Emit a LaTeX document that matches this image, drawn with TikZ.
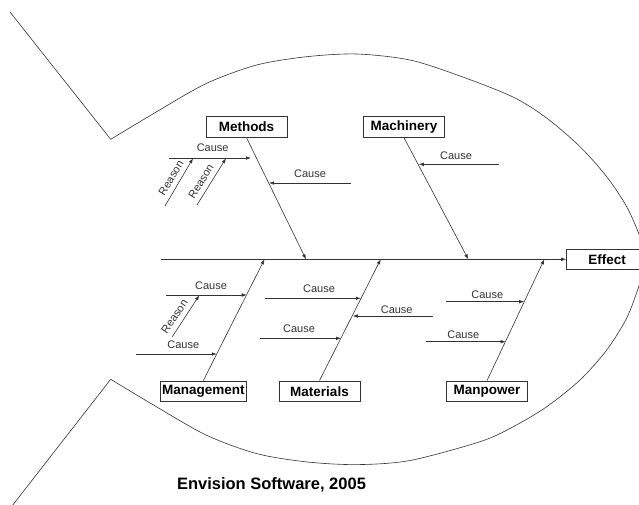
\documentclass[tikz,border=0pt]{standalone}
\usepackage{fontspec}
\setmainfont{Liberation Sans}
\usetikzlibrary{arrows.meta}
\begin{document}
\begin{tikzpicture}[x=1pt,y=-1pt,
  line/.style={draw=black!80, line width=0.6pt},
  arr/.style={line, -{Latex[length=5pt,width=3.6pt]}},
  cat/.style={draw=black!80, line width=0.7pt, fill=white, minimum width=81pt,
    minimum height=20.7pt, inner xsep=2pt, inner ysep=0pt,
    font=\fontsize{13.5}{14}\selectfont\bfseries},
  lbl/.style={font=\fontsize{11}{12}\selectfont, text=black!80, inner sep=0pt},
]
\useasboundingbox (0,0) rectangle (639,504);
\clip (0,0) rectangle (639,504);

% fish outline
\draw[line] (10,12) -- (110.7,139.3);
\draw[line] plot[smooth] coordinates {(110.7,139.3) (156.7,111.7) (206.7,83.3)
  (256.7,65) (306.7,56.7) (356.7,54) (410,60) (460,76) (513,97) (547,118.3)
  (580,146.7) (606.7,176.7) (626.7,206.7) (639.3,235) (647,259.3)};
\draw[line] plot[smooth] coordinates {(110.7,379.3) (156.7,406.9) (206.7,435.3)
  (256.7,453.6) (306.7,461.9) (356.7,464.6) (410,460.5) (480,441.7)
  (513.3,426.7) (546.7,406.7) (580,380) (606.7,350) (626.7,318) (639.3,285)
  (647,259.3)};
\draw[line] (110.7,379.3) -- (12,506);

% category boxes
\node[cat] (Methods) at (246.5,127) {Methods};
\node[cat] (Machinery) at (404,127) {Machinery};
\node[cat] (Management) at (203.3,391.3) {Management};
\node[cat] (Materials) at (319.5,391.3) {Materials};
\node[cat] (Manpower) at (487,391.3) {Manpower};
\node[cat] (Effect) at (607,259.3) {Effect};

% spine
\coordinate (tail) at (161,259.3);
\draw[arr] (tail) -- (Effect.west);

% bones
\coordinate (bMe) at (306,259.3);
\coordinate (bMa) at (468.3,259.3);
\coordinate (bMg) at (264.5,259.3);
\coordinate (bMt) at (380.7,259.3);
\coordinate (bMp) at (544.3,259.3);
\draw[arr] (Methods.south) -- (bMe);
\draw[arr] (Machinery.south) -- (bMa);
\draw[arr] (Management.north) -- (bMg);
\draw[arr] (Materials.north) -- (bMt);
\draw[arr] (Manpower.north) -- (bMp);

% Methods causes
\coordinate (c1a) at (169,158); \coordinate (c1b) at (251,158);
\draw[arr] (c1a) -- (c1b);
\node[lbl] (l1) at (212.7,147.7) {Cause};
\coordinate (r1a) at (165,206); \coordinate (r1b) at (193,158.3);
\draw[arr] (r1a) -- (r1b);
\node[lbl, rotate=59] (lr1) at (171,178) {Reason};
\coordinate (r2a) at (197,205); \coordinate (r2b) at (226,158.3);
\draw[arr] (r2a) -- (r2b);
\node[lbl, rotate=58] (lr2) at (201,181.5) {Reason};
\coordinate (c2a) at (351,183); \coordinate (c2b) at (269,183);
\draw[arr] (c2a) -- (c2b);
\node[lbl] (l2) at (310,173.3) {Cause};

% Machinery cause
\coordinate (c3a) at (499.3,164.3); \coordinate (c3b) at (418.8,164.3);
\draw[arr] (c3a) -- (c3b);
\node[lbl] (l3) at (456,156) {Cause};

% Management causes
\coordinate (c4a) at (165.7,295); \coordinate (c4b) at (246.7,295);
\draw[arr] (c4a) -- (c4b);
\node[lbl] (l4) at (211,286) {Cause};
\coordinate (r3a) at (172.3,336.7); \coordinate (r3b) at (199.3,295.3);
\draw[arr] (r3a) -- (r3b);
\node[lbl, rotate=56] (lr3) at (174.5,316.5) {Reason};
\coordinate (c5a) at (136,354); \coordinate (c5b) at (216.8,354);
\draw[arr] (c5a) -- (c5b);
\node[lbl] (l5) at (183.3,345) {Cause};

% Materials causes
\coordinate (c6a) at (265,298.3); \coordinate (c6b) at (360.8,298.3);
\draw[arr] (c6a) -- (c6b);
\node[lbl] (l6) at (319,289) {Cause};
\coordinate (c7a) at (433.3,316); \coordinate (c7b) at (352.8,316);
\draw[arr] (c7a) -- (c7b);
\node[lbl] (l7) at (396.7,310) {Cause};
\coordinate (c8a) at (260,338.3); \coordinate (c8b) at (341.2,338.3);
\draw[arr] (c8a) -- (c8b);
\node[lbl] (l8) at (299,329) {Cause};

% Manpower causes
\coordinate (c9a) at (446,301.7); \coordinate (c9b) at (524.2,301.7);
\draw[arr] (c9a) -- (c9b);
\node[lbl] (l9) at (487.3,294.3) {Cause};
\coordinate (c10a) at (426,341.7); \coordinate (c10b) at (505.6,341.7);
\draw[arr] (c10a) -- (c10b);
\node[lbl] (l10) at (463.3,335) {Cause};

% footer
\node[font=\fontsize{16.5}{18}\selectfont\bfseries, inner sep=0pt] (credit) at (271.5,485) {Envision Software, 2005};
\end{tikzpicture}
\end{document}
